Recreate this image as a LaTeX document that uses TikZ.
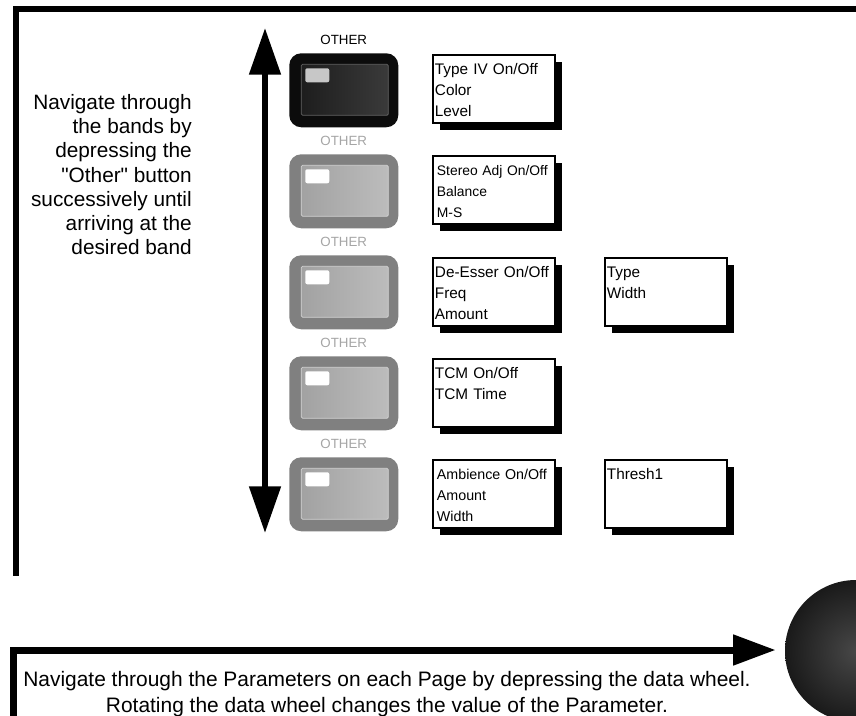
\documentclass[tikz,border=0pt]{standalone}
\usepackage{fontspec}
\setmainfont{Liberation Sans}
\setsansfont{Liberation Sans}
\usetikzlibrary{
  arrows.meta,
  positioning,
  shadows,
  calc
}
\definecolor{btndark}{RGB}{12,12,12}
\definecolor{btngray}{RGB}{128,128,128}
\definecolor{lblgray}{RGB}{165,165,165}

\begin{document}
\begin{tikzpicture}[
  x=0.75pt, y=-0.75pt,
  every node/.style={font=\sffamily},
  frame/.style={line width=5pt, line join=miter},
  navarrow/.style={line width=4.5pt,
    {Triangle[length=35pt, width=23pt]}-{Triangle[length=35pt, width=23pt]}},
  btn/.style={rounded corners=9pt, minimum width=81.75pt, minimum height=55.5pt, inner sep=0pt},
  btnon/.style={btn, fill=btndark, path picture={
      \shade[left color=black!90, right color=black!76, draw=black!62, line width=0.6pt, rounded corners=1pt]
        ($(path picture bounding box.north west)+(12,11)$) rectangle ($(path picture bounding box.south east)+(-10,-12)$);
      \fill[black!22, rounded corners=1.5pt]
        ($(path picture bounding box.north west)+(16,15)$) rectangle +(24,14);
    }},
  btnoff/.style={btn, fill=btngray, path picture={
      \shade[left color=black!38, right color=black!25, draw=black!18, line width=0.6pt, rounded corners=1pt]
        ($(path picture bounding box.north west)+(12,11)$) rectangle ($(path picture bounding box.south east)+(-10,-12)$);
      \fill[white, rounded corners=1.5pt]
        ($(path picture bounding box.north west)+(16,15)$) rectangle +(24,14);
    }},
  othon/.style={font=\sffamily\fontsize{10}{10}\selectfont, inner sep=0pt},
  othoff/.style={othon, text=lblgray},
  parambox/.style={draw, line width=1.4pt, fill=white, anchor=north west,
    text width=88.5pt, align=left, inner xsep=1.5pt, inner ysep=0pt,
    text height=15pt, text depth=36pt,
    font=\sffamily\fontsize{11.5}{15.75}\selectfont,
    drop shadow={shadow xshift=5pt, shadow yshift=-5.5pt, opacity=1, fill=black}},
  smallbox/.style={font=\sffamily\fontsize{10.4}{15.75}\selectfont, inner xsep=3pt, text width=85.5pt},
  note/.style={inner sep=0pt, font=\sffamily\fontsize{15.6}{18.2}\selectfont},
  >=Stealth
]
\useasboundingbox (0,0) rectangle (856,716);

% page frame
\draw[frame] (856,9) -- (16,9) -- (16,576);

\node[note, anchor=north east, align=right] (bandnote) at (192,94) {%
  Navigate through\\
  the bands by\\
  depressing the\\
  \textquotedbl Other\textquotedbl{} button\\
  successively until\\
  arriving at the\\
  desired band};

% band navigation
\coordinate (navtop) at (265,28);
\coordinate (navbot) at (265,533);
\draw[navarrow] (navtop) -- (navbot);

% other buttons
\node[btnon, anchor=north west] (b1) at (289,53) {};
\node[btnoff, anchor=north west] (b2) at (289,154) {};
\node[btnoff, anchor=north west] (b3) at (289,255) {};
\node[btnoff, anchor=north west] (b4) at (289,356) {};
\node[btnoff, anchor=north west] (b5) at (289,457) {};

\node[othon, above=6pt of b1] (o1) {OTHER};
\node[othoff, above=6pt of b2] (o2) {OTHER};
\node[othoff, above=6pt of b3] (o3) {OTHER};
\node[othoff, above=6pt of b4] (o4) {OTHER};
\node[othoff, above=6pt of b5] (o5) {OTHER};

% parameter pages
\node[parambox] (typeiv) at (432,54) {Type IV On/Off\\ Color\\ Level};
\node[parambox, smallbox] (stereo) at (432,155) {Stereo Adj On/Off\\ Balance\\ M-S};
\node[parambox] (deess) at (432,257) {De-Esser On/Off\\ Freq\\ Amount};
\node[parambox] (tcm) at (432,358) {TCM On/Off\\ TCM Time};
\node[parambox, smallbox, font=\sffamily\fontsize{10.7}{15.75}\selectfont] (amb) at (432,459) {Ambience On/Off\\ Amount\\ Width};

\node[parambox] (deess2) at (604,257) {Type\\ Width};
\node[parambox] (amb2) at (604,459) {Thresh1};

% data wheel
\node[circle, minimum size=106.5pt, inner sep=0pt, shading=radial,
      inner color=black!72, outer color=black!90] (wheel) at (856,651) {};

\coordinate (pbot) at (13,716);
\coordinate (pcorner) at (13,650);
\draw[frame, line width=5.25pt, -{Triangle[length=32pt, width=22pt]}, shorten >=6.75pt]
  (pbot) -- (pcorner) -- (pcorner -| wheel.west);

\node[note, align=center, font=\sffamily\fontsize{15.7}{19}\selectfont] (wheelnote) at (387,694) {%
  Navigate through the Parameters on each Page by depressing the data wheel.\\
  Rotating the data wheel changes the value of the Parameter.};

\end{tikzpicture}
\end{document}
